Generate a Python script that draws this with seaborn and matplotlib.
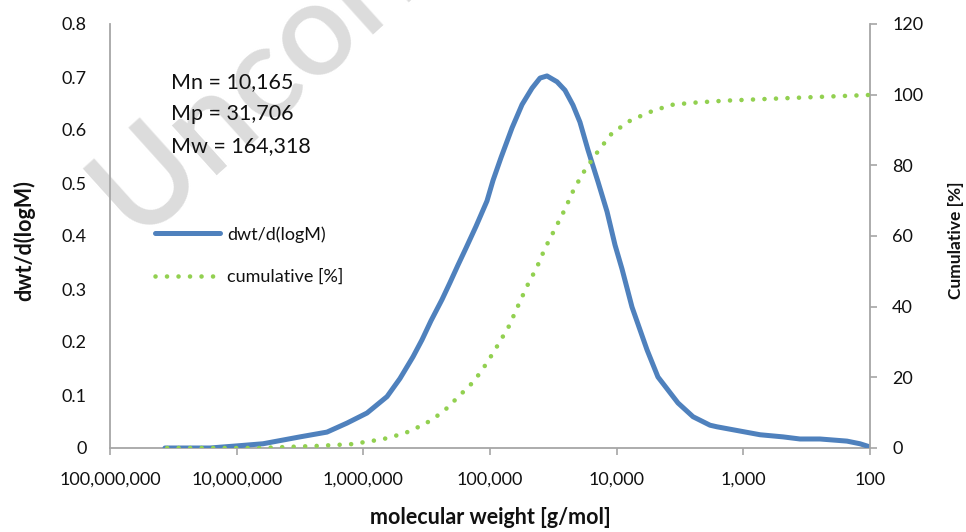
import matplotlib
matplotlib.use("Agg")
import matplotlib.pyplot as plt
import matplotlib.ticker as mticker
from matplotlib.lines import Line2D
import seaborn as sns
import pandas as pd
import numpy as np

# ---- data ----
dist_logM = [7.566, 7.211, 6.997, 6.792, 6.500, 6.287, 6.129, 5.971, 5.813, 5.711,
             5.608, 5.537, 5.466, 5.379, 5.316, 5.253, 5.190, 5.111, 5.024, 4.976,
             4.913, 4.826, 4.747, 4.668, 4.605, 4.550, 4.471, 4.408, 4.345, 4.290,
             4.226, 4.147, 4.076, 4.013, 3.958, 3.879, 3.760, 3.674, 3.516, 3.397,
             3.263, 3.208, 2.868, 2.687, 2.553, 2.395, 2.182, 2.079, 2.000]
dist_vals = [0.000, 0.000, 0.004, 0.008, 0.021, 0.030, 0.047, 0.066, 0.097, 0.131,
             0.172, 0.204, 0.240, 0.280, 0.312, 0.345, 0.377, 0.418, 0.466, 0.505,
             0.548, 0.604, 0.648, 0.679, 0.698, 0.702, 0.691, 0.675, 0.647, 0.615,
             0.562, 0.502, 0.446, 0.383, 0.338, 0.266, 0.185, 0.134, 0.085, 0.059,
             0.043, 0.040, 0.025, 0.021, 0.017, 0.017, 0.013, 0.008, 0.002]

cum_logM = [7.566, 6.816, 6.603, 6.358, 6.090, 5.845, 5.671, 5.513, 5.371, 5.253,
            5.126, 5.024, 4.937, 4.850, 4.779, 4.708, 4.629, 4.566, 4.487, 4.408,
            4.337, 4.250, 4.147, 4.037, 3.895, 3.745, 3.571, 3.405, 3.145, 2.805,
            2.450, 2.016]
cum_vals = [0.0, 0.0, 0.3, 0.6, 1.1, 2.5, 4.2, 6.8, 10.2, 14.4,
            18.9, 24.1, 29.2, 34.5, 40.2, 45.8, 51.2, 56.5, 62.0, 67.6,
            73.3, 78.7, 84.0, 89.1, 92.6, 95.0, 97.1, 97.7, 98.3, 98.8,
            99.3, 99.9]

x_ticks = [1e8, 1e7, 1e6, 1e5, 1e4, 1e3, 1e2]
left_ticks = [0, 0.1, 0.2, 0.3, 0.4, 0.5, 0.6, 0.7, 0.8]
right_ticks = [0, 20, 40, 60, 80, 100, 120]
stats_labels = ["Mn = 10,165", "Mp = 31,706", "Mw = 164,318"]
series_names = ["dwt/d(logM)", "cumulative [%]"]

BLUE = "#4f81bd"
GREEN = "#92d050"
AXC = "#a6a6a6"

sns.set_theme(style="white")
plt.rcParams["font.family"] = ["Lato", "DejaVu Sans"]

dist_df = pd.DataFrame({"M": np.power(10.0, dist_logM), "v": dist_vals})
cum_df = pd.DataFrame({"M": np.power(10.0, cum_logM), "v": cum_vals})

W, H = 966, 532
fig = plt.figure(figsize=(W / 100, H / 100), dpi=100)
ax = fig.add_axes([110 / W, 1 - 448 / H, 760 / W, 424 / H])
ax.set_facecolor("none")
ax2 = ax.twinx()

sns.lineplot(data=dist_df, x="M", y="v", ax=ax, color=BLUE, linewidth=3.6,
             solid_capstyle="round", solid_joinstyle="round", zorder=3)
sns.lineplot(data=cum_df, x="M", y="v", ax=ax2, color=GREEN, linewidth=3.3,
             linestyle=(0, (0.01, 2.5)), dash_capstyle="round", zorder=3)
for ln in ax2.lines:
    ln.set_dash_capstyle("round")

for a in (ax, ax2):
    a.set_xscale("log")
    a.set_xlim(1e8, 100)
ax.set_ylim(0, 0.8)
ax2.set_ylim(0, 120)

ax.xaxis.set_major_locator(mticker.FixedLocator(x_ticks))
ax.xaxis.set_minor_locator(mticker.NullLocator())
ax.xaxis.set_major_formatter(mticker.FuncFormatter(lambda v, p: f"{v:,.0f}"))
ax.set_yticks(left_ticks)
ax.yaxis.set_major_formatter(mticker.FuncFormatter(lambda v, p: "0" if v == 0 else f"{v:.1f}"))
ax2.set_yticks(right_ticks)

ax.tick_params(axis="x", direction="out", length=5, width=1.2, color=AXC, pad=12,
               labelsize=13, labelcolor="#111111", bottom=True)
ax.tick_params(axis="y", length=0, pad=17, labelsize=13, labelcolor="#111111", left=True)
ax2.tick_params(axis="y", direction="out", length=5, width=1.2, color=AXC, pad=11,
                labelsize=13, labelcolor="#111111", right=True)

for a in (ax, ax2):
    a.spines["top"].set_visible(False)
    for s in ("left", "bottom", "right"):
        a.spines[s].set_color(AXC)
        a.spines[s].set_linewidth(1.3)
ax.spines["right"].set_visible(False)
ax2.spines["left"].set_visible(False)
ax2.spines["bottom"].set_visible(False)

ax.set_xlabel("molecular weight [g/mol]", fontsize=15.5, fontweight="bold", color="#111111")
ax.xaxis.set_label_coords(0.5, -0.14)
ax.set_ylabel("dwt/d(logM)", fontsize=15.5, fontweight="bold", color="#111111")
ax.yaxis.set_label_coords(-0.098, 0.49)
ax2.set_ylabel("Cumulative [%]", fontsize=12.5, fontweight="bold", color="#111111")
ax2.yaxis.set_label_coords(1.103, 0.49)

for lbl, yb in zip(stats_labels, [0.848, 0.774, 0.699]):
    ax.text(0.080, yb, lbl, transform=ax.transAxes, fontsize=15.5, va="baseline",
            ha="left", color="#111111", zorder=5)

handles = [Line2D([0], [0], color=BLUE, lw=3.6, solid_capstyle="round"),
           Line2D([0], [0], color=GREEN, lw=3.3, linestyle=(0, (0.01, 2.5)),
                  dash_capstyle="round")]
leg = ax.legend(handles, series_names, loc="upper left", frameon=False,
                bbox_to_anchor=(155 / W, 1 - 226 / H), bbox_transform=fig.transFigure,
                borderpad=0, borderaxespad=0, handlelength=3.6, handletextpad=0.4,
                labelspacing=1.45, fontsize=13)
for t in leg.get_texts():
    t.set_color("#111111")

# watermark
fig.text(139 / W, 1 - 245 / H, "Uncorrected Proof", fontsize=94, color="#dcdcdc",
         fontweight="semibold", rotation=42, rotation_mode="anchor", ha="left",
         va="baseline", zorder=-5, family=["Lato", "DejaVu Sans"])

fig.savefig("out.png", dpi=100, facecolor="white")
